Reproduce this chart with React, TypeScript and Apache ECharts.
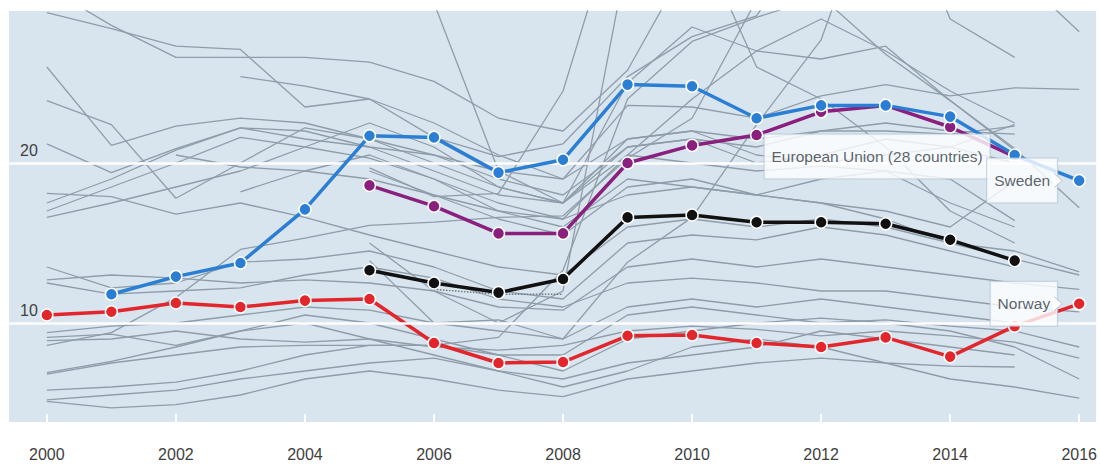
import React, { useEffect, useRef } from "react";
import * as echarts from "echarts";

const years = [2000, 2001, 2002, 2003, 2004, 2005, 2006, 2007, 2008, 2009, 2010, 2011, 2012, 2013, 2014, 2015, 2016];
const tickYears = [2000, 2002, 2004, 2006, 2008, 2010, 2012, 2014, 2016];
const yLabelValues = [10, 20];
const gridValues = [10, 20];

type V = number | null;

const sweden: V[] = [null, 11.8, 12.9, 13.75, 17.1, 21.7, 21.6, 19.4, 20.2, 24.9, 24.8, 22.8, 23.6, 23.6, 22.9, 20.5, 18.9];
const norway: V[] = [10.5, 10.7, 11.25, 11.0, 11.4, 11.5, 8.75, 7.5, 7.56, 9.2, 9.25, 8.75, 8.5, 9.1, 7.9, 9.8, 11.2];
const eu28: V[] = [null, null, null, null, null, 18.6, 17.3, 15.6, 15.6, 20.0, 21.1, 21.75, 23.2, 23.6, 22.25, 20.4, null];
const blackCountry: V[] = [null, null, null, null, null, 13.3, 12.5, 11.9, 12.75, 16.6, 16.75, 16.3, 16.3, 16.2, 15.2, 13.9, null];
const dottedGap: V[] = [null, null, null, null, null, null, 12.1, 11.8, 11.8, null, null, null, null, null, null, null, null];

const greyCountries: V[][] = [
  [29.4, 28.4, 27.3, 27.1, 23.5, 24.0, 21.6, 20.4, 21.2, 25.4, 27.9, 29.2, 35.3, 40.0, 42.7, 40.3, null],
  [31.0, 28.6, 26.6, 26.6, 26.6, 26.3, 25.1, 22.8, 22.0, 25.8, 33.0, 44.0, 55.0, 58.0, 52.0, 49.8, null],
  [26.0, 21.1, 22.3, 22.8, 22.5, 21.5, 20.0, 18.5, 17.5, 21.5, 22.0, 20.5, 20.0, 20.5, 21.0, 22.4, null],
  [23.9, 22.4, 17.8, 20.0, 22.2, 21.5, 20.5, 19.0, 18.0, 21.0, 21.5, 21.0, 22.0, 22.5, 22.0, 21.8, null],
  [21.2, 19.4, 20.9, 22.2, 22.0, 21.0, 20.5, 19.5, 19.0, 23.6, 23.5, 22.8, 24.2, 24.9, 24.2, 24.7, 24.6],
  [18.1, 17.9, 16.8, 17.5, 16.6, 15.5, 14.5, 13.5, 13.0, 16.0, 16.5, 16.0, 16.5, 16.0, 15.0, 14.0, 13.0],
  [17.5, 19.0, 20.8, 22.2, 21.5, 21.0, 19.5, 18.0, 17.5, 20.5, 20.0, 19.5, 19.8, 19.5, 17.5, 16.0, null],
  [17.0, 18.5, 20.0, 21.6, 21.0, 20.3, 19.0, 17.0, 16.0, 19.0, 18.5, 18.0, 17.5, 16.5, 15.0, 14.5, 13.2],
  [16.6, 17.5, 18.5, 19.5, 21.0, 22.5, 21.0, 18.5, 17.5, 21.0, 21.5, 20.0, 20.5, 21.5, 21.0, 20.0, null],
  [null, null, null, 25.4, 24.8, 24.0, 22.5, 20.5, 19.0, 21.5, 22.0, 21.5, 22.0, 22.0, 21.8, 22.3, null],
  [null, null, null, 18.2, 19.5, 20.5, 19.0, 17.5, 16.5, 18.0, 18.5, 18.0, 19.0, 19.5, 19.0, 16.4, null],
  [null, null, 20.5, 19.75, 19.5, 19.0, 18.0, 16.5, 15.5, 18.5, 19.0, 18.0, 17.5, 17.0, 16.0, 18.9, null],
  [13.5, 12.2, 12.5, 13.8, 14.0, 14.5, 13.5, 12.0, 11.5, 15.0, 15.5, 15.2, 16.0, 15.5, 14.5, 13.5, null],
  [12.7, 13.0, 12.8, 12.5, 12.7, 12.5, 12.0, 11.0, 10.8, 13.5, 14.0, 13.5, 14.0, 13.5, 13.0, 12.5, 12.1],
  [12.5, 11.8, 12.0, 12.2, 13.0, 13.5, 12.8, 11.5, 11.0, 12.5, 12.8, 12.5, 12.0, 12.0, 11.5, 11.0, 10.7],
  [9.4, 9.8, 10.0, 10.5, 11.0, 10.8, 10.0, 9.5, 9.0, 11.0, 11.5, 11.0, 11.5, 11.0, 10.5, 10.0, null],
  [9.1, 9.3, 8.6, 9.5, 10.5, 10.0, 9.0, 8.0, 8.0, 10.5, 11.0, 10.5, 10.0, 10.2, 9.8, 9.5, 8.5],
  [8.9, 9.0, 9.5, 9.0, 8.8, 9.0, 8.5, 8.3, 8.6, 9.5, 9.8, 9.6, 9.2, 9.5, 9.2, 8.8, 7.8],
  [6.9, 7.6, 8.5, 9.5, 10.0, 9.0, 8.0, 7.0, 6.5, 7.5, 8.0, 8.5, 9.5, 9.0, 8.5, 8.0, null],
  [5.8, 6.0, 6.3, 7.0, 8.0, 8.6, 8.6, 8.0, 7.0, 9.0, 9.5, 10.0, 10.3, 10.0, 9.5, 8.5, 6.5],
  [5.2, 5.5, 5.8, 6.5, 7.0, 7.5, 7.8, 7.0, 6.0, 7.0, 8.5, 9.0, 8.5, 7.5, 6.5, 6.0, 5.3],
  [5.1, 4.7, 4.9, 5.5, 6.5, 7.0, 6.5, 5.8, 5.4, 6.5, 7.0, 7.5, 7.8, 7.5, 7.3, 7.25, null],
  [null, null, null, null, null, 19.7, 17.9, 18.1, 24.5, 37.7, 41.5, 46.2, 52.9, 55.5, 53.2, 48.3, null],
  [6.8, 7.5, 8.0, 8.5, 8.6, 8.6, 8.6, 9.1, 13.3, 24.0, 27.6, 29.1, 30.4, 26.8, 23.9, 20.9, 17.2],
  [null, null, null, null, null, 15.0, 12.0, 10.0, 12.0, 33.0, 35.0, 26.0, 24.0, 21.0, 17.0, 15.0, null],
  [8.6, 9.4, 11.6, 14.6, 15.3, 16.1, 16.3, 16.6, 16.7, 20.3, 22.8, 30.2, 38.0, 38.1, 34.8, 32.0, 28.2],
  [36.0, 39.0, 37.6, 33.0, 32.8, 30.0, 30.0, 19.5, 17.5, 25.0, 28.5, 27.0, 26.5, 27.3, 23.9, 20.8, null],
  [null, null, null, null, null, 13.9, 10.0, 10.2, 9.0, 13.8, 16.6, 22.4, 27.7, 38.9, 29.0, 26.6, null],
  [null, null, null, null, null, 19.5, 18.0, 17.0, 16.5, 20.5, 24.0, 27.0, 29.0, 27.0, 24.5, 22.5, null],
];

const FONT = '"Liberation Sans", Arial, sans-serif';
const BORDER = "#b7c7d6";

function toPairs(vals: V[]) {
  const out: [number, number][] = [];
  vals.forEach((v, i) => {
    if (v !== null) out.push([years[i], v]);
  });
  return out;
}

function highlight(name: string, vals: V[], color: string, z: number) {
  return {
    name,
    type: "line",
    data: toPairs(vals),
    symbol: "circle",
    symbolSize: 12,
    z,
    silent: true,
    itemStyle: { color, borderColor: "#ffffff", borderWidth: 1.5 },
    lineStyle: { color, width: 3.5 },
  };
}

export default function App() {
  const ref = useRef<HTMLDivElement>(null);

  useEffect(() => {
    if (!ref.current) return;
    const chart = echarts.init(ref.current, undefined, { renderer: "svg" });

    const series: any[] = [];
    series.push({
      name: "grid",
      type: "line",
      data: [],
      z: 1,
      silent: true,
      markLine: {
        silent: true,
        symbol: ["none", "none"],
        label: { show: false },
        lineStyle: { color: "#ffffff", width: 2.5, type: "solid" },
        data: gridValues.map((v) => ({ yAxis: v })),
      },
    });
    greyCountries.forEach((g, i) => {
      series.push({
        name: "grey" + i,
        type: "line",
        data: toPairs(g),
        symbol: "none",
        z: 2,
        silent: true,
        lineStyle: { color: "#8f9daa", width: 1.3 },
      });
    });
    series.push({
      name: "gap",
      type: "line",
      data: toPairs(dottedGap),
      symbol: "none",
      z: 2,
      silent: true,
      lineStyle: { color: "#6e7a84", width: 1.5, type: "dotted" },
    });
    series.push(highlight("Black", blackCountry, "#111111", 3));
    series.push(highlight("Norway", norway, "#e2262c", 4));
    series.push(highlight("European Union (28 countries)", eu28, "#8a1f7e", 5));
    series.push(highlight("Sweden", sweden, "#2a7fd4", 6));

    const labelPoints = [
      { name: "European Union (28 countries)", value: [2015, eu28[15] as number], label: { distance: 25 } },
      { name: "Norway", value: [2016, norway[16] as number], label: { distance: 22 } },
      { name: "Sweden", value: [2016, sweden[16] as number], label: { distance: 22 } },
    ];
    series.push({
      name: "labels",
      type: "scatter",
      z: 10,
      silent: true,
      symbolSize: 0.1,
      itemStyle: { color: "transparent" },
      data: labelPoints,
      label: {
        show: true,
        position: "left",
        formatter: "{b}",
        fontFamily: FONT,
        fontSize: 15.5,
        lineHeight: 18,
        color: "#323b44",
        backgroundColor: "#ffffff",
        borderColor: BORDER,
        borderWidth: 1,
        padding: [13, 7, 13, 7],
      },
    });

    chart.setOption({
      animation: false,
      backgroundColor: "#ffffff",
      grid: {
        left: 9,
        right: 0,
        top: 11,
        bottom: 44,
        show: true,
        backgroundColor: "#d8e4ee",
        borderWidth: 0,
      },
      xAxis: {
        type: "value",
        min: 2000 - 38 / 64.75,
        max: 2016 + 17 / 64.75,
        axisLine: { show: false },
        splitLine: { show: false },
        axisTick: {
          show: true,
          inside: true,
          length: 8,
          lineStyle: { color: "#ffffff", width: 2 },
          customValues: tickYears,
        },
        axisLabel: {
          customValues: tickYears,
          margin: 24,
          fontSize: 16,
          fontFamily: FONT,
          color: "#404040",
          formatter: (v: number) => String(v),
        },
      },
      yAxis: {
        type: "value",
        min: 20 - (422 - 163) / 16,
        max: 20 + (163 - 11) / 16,
        axisLine: { show: false },
        axisTick: { show: false },
        splitLine: { show: false },
        axisLabel: {
          inside: true,
          customValues: yLabelValues,
          margin: 11,
          verticalAlign: "bottom",
          padding: [0, 0, 5, 0],
          fontSize: 16,
          fontFamily: FONT,
          color: "#404040",
          formatter: (v: number) => String(v),
        },
      },
      series,
    });

    const pointers: any[] = [];
    [
      [2016, sweden[16] as number, 25],
      [2016, norway[16] as number, 25],
    ].forEach(([x, y, d]) => {
      const p = chart.convertToPixel({ gridIndex: 0 }, [x, y]) as number[];
      const bx = p[0] - d;
      const cy = p[1];
      pointers.push({
        type: "polygon",
        z: 100,
        silent: true,
        shape: { points: [[bx - 1.5, cy - 7], [bx + 8, cy], [bx - 1.5, cy + 7]] },
        style: { fill: "#ffffff" },
      });
      pointers.push({
        type: "polyline",
        z: 101,
        silent: true,
        shape: { points: [[bx, cy - 7], [bx + 8, cy], [bx, cy + 7]] },
        style: { stroke: BORDER, lineWidth: 1, fill: null },
      });
    });
    chart.setOption({ graphic: pointers });

    return () => chart.dispose();
  }, []);

  return (
    <div
      ref={ref}
      style={{ position: "fixed", left: 0, top: 0, width: 1100, height: 466, background: "#fff" }}
    />
  );
}
